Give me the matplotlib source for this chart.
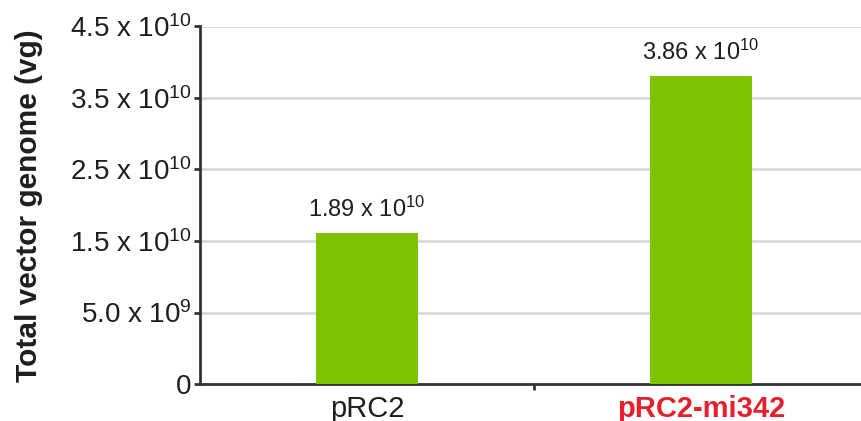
import matplotlib
matplotlib.use("Agg")
import matplotlib.pyplot as plt
import numpy as np

categories = ["pRC2", "pRC2-mi342"]
values = [1.89e10, 3.86e10]
value_labels = ["1.89 x 10$^{10}$", "3.86 x 10$^{10}$"]
ytick_labels = ["0", "5.0 x 10$^{9}$", "1.5 x 10$^{10}$", "2.5 x 10$^{10}$",
                "3.5 x 10$^{10}$", "4.5 x 10$^{10}$"]
ylabel = "Total vector genome (vg)"

plt.rcParams['font.family'] = ['Liberation Sans', 'DejaVu Sans']
plt.rcParams['mathtext.default'] = 'regular'

step = 0.895e10
W, H = 861, 421
fig = plt.figure(figsize=(W / 100, H / 100), dpi=100)
left, bottom = 200 / W, 37 / H
ax = fig.add_axes([left, bottom, 668 / W, 357.5 / H])

x = np.arange(len(categories))
ax.bar(x, values, width=0.305, color="#7dc300", zorder=3)
ax.set_xlim(-0.5, 1.5)
ax.set_ylim(0, 5 * step)

yt = np.arange(len(ytick_labels)) * step
ax.set_yticks(yt)
ax.set_yticklabels(ytick_labels, fontsize=20, color="#1e1e1e")
ax.yaxis.grid(True, color="#d9d9d9", linewidth=2, zorder=0)
ax.tick_params(axis='y', length=4, width=2, color="#333333", pad=2)

ax.set_xticks([0.5])
ax.set_xticklabels([""])
ax.tick_params(axis='x', length=4, width=2, color="#333333")
for xi, cat, col, wt in zip(x, categories, ["#1e1e1e", "#e3202b"], ["normal", "bold"]):
    ax.text(xi, -0.03, cat, transform=ax.get_xaxis_transform(), ha="center", va="top",
            fontsize=21, color=col, fontweight=wt)

for xi, v, lab in zip(x, values, value_labels):
    ax.annotate(lab, (xi, v), xytext=(0, 8), textcoords="offset points",
                ha="center", va="bottom", fontsize=17, color="#1e1e1e")

for s in ["top", "right"]:
    ax.spines[s].set_visible(False)
for s in ["left", "bottom"]:
    ax.spines[s].set_color("#333333")
    ax.spines[s].set_linewidth(2)

fig.text(29 / W, 1 - (384 + 26.7) / 2 / H, ylabel, rotation=90,
         ha="center", va="center", fontsize=21.5, fontweight="bold", color="#1e1e1e")

fig.savefig("out.png", dpi=100)
